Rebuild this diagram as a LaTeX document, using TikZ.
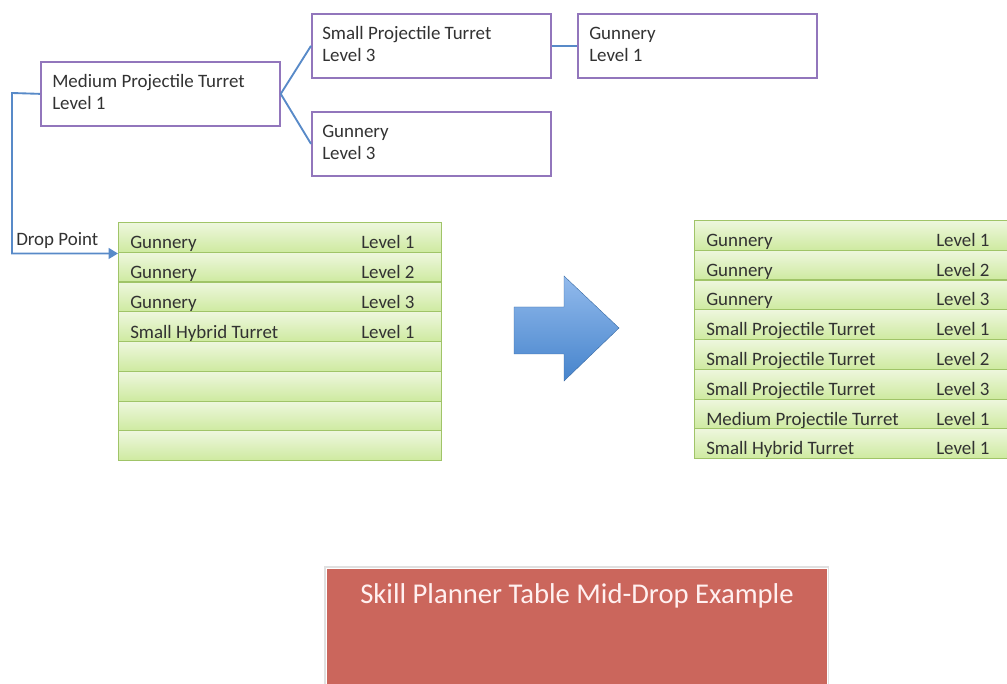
\documentclass[tikz,border=0pt]{standalone}
\usepackage{fontspec}
\setmainfont{Carlito}
\usetikzlibrary{arrows.meta}
\definecolor{purp}{RGB}{146,118,188}
\definecolor{conn}{RGB}{88,138,200}
\definecolor{grnb}{RGB}{160,196,104}
\definecolor{grnt}{RGB}{238,247,222}
\definecolor{grnbot}{RGB}{206,234,160}
\definecolor{txt}{RGB}{50,50,50}
\definecolor{redf}{RGB}{203,102,92}
\definecolor{arrt}{RGB}{146,186,236}
\definecolor{arrb}{RGB}{70,132,204}
\tikzset{
  skillbox/.style={draw=purp, line width=1.3pt, fill=white, minimum width=239*0.75pt, minimum height=64*0.75pt, anchor=north west, inner sep=0pt},
  boxtext/.style={anchor=base west, text=txt, font=\fontsize{14.2}{16}\selectfont, inner sep=0pt},
  conline/.style={draw=conn, line width=1.4pt},
  rowcell/.style={draw=grnb, line width=0.8pt, top color=grnt, bottom color=grnbot, anchor=north west, inner sep=0pt},
  celltext/.style={anchor=base west, text=txt, font=\fontsize{14.2}{16}\selectfont, inner sep=0pt},
}
\begin{document}
\begin{tikzpicture}[x=0.75pt,y=-0.75pt]
\useasboundingbox (0,0) rectangle (1007,684);
% skill boxes
\node[skillbox] (mpt) at (40,61) {};
\node[boxtext] (mpt1) at (52,88) {Medium Projectile Turret};
\node[boxtext] (mpt2) at (52,110) {Level 1};
\node[skillbox] (spt) at (311,13) {};
\node[boxtext] (spt1) at (322,40) {Small Projectile Turret};
\node[boxtext] (spt2) at (322,62) {Level 3};
\node[skillbox] (gun3) at (311,111) {};
\node[boxtext] (gun31) at (322,138) {Gunnery};
\node[boxtext] (gun32) at (322,160) {Level 3};
\node[skillbox] (gun1) at (577,13) {};
\node[boxtext] (gun11) at (589,40) {Gunnery};
\node[boxtext] (gun12) at (589,62) {Level 1};
% connectors
\draw[conline] (mpt.east) -- (spt.west);
\draw[conline] (mpt.east) -- (gun3.west);
\draw[conline] (spt.east) -- (gun1.west);
% table 1
\foreach \i/\a/\b in {1/Gunnery/Level 1,2/Gunnery/Level 2,3/Gunnery/Level 3,4/Small Hybrid Turret/Level 1,5//,6//,7//,8//}{
  \node[rowcell, minimum width=323*0.75pt, minimum height=29.75*0.75pt] (ta\i) at (118,{222+(\i-1)*29.75}) {};
  \node[celltext] at (130,{222+(\i-1)*29.75+27}) {\a};
  \node[celltext] at (361,{222+(\i-1)*29.75+27}) {\b};
}
% drop connector
\coordinate (dropx) at (12,93);
\draw[conline, -{Triangle[length=7pt,width=8pt]}] (mpt.west) -- (dropx) |- ([yshift=-0.5pt]ta1.south west);
\node[anchor=base west, text=txt, font=\fontsize{14.2}{16}\selectfont, inner sep=0pt] (dp) at (16,246) {Drop Point};
% block arrow
\shade[top color=arrt, bottom color=arrb, draw=arrb!80!black, line width=0.3pt]
  (514,307) -- (564,307) -- (564,276) -- (619,328) -- (564,381) -- (564,354) -- (514,354) -- cycle;
% table 2
\foreach \i/\a in {1/Gunnery,2/Gunnery,3/Gunnery,4/Small Projectile Turret,5/Small Projectile Turret,6/Small Projectile Turret,7/Medium Projectile Turret,8/Small Hybrid Turret}{
  \node[rowcell, minimum width=330*0.75pt, minimum height=29.75*0.75pt] (tb\i) at (694,{220+(\i-1)*29.75}) {};
  \node[celltext] at (706,{220+(\i-1)*29.75+26.5}) {\a};
}
\foreach \i/\b in {1/Level 1,2/Level 2,3/Level 3,4/Level 1,5/Level 2,6/Level 3,7/Level 1,8/Level 1}{
  \node[celltext] at (936,{220+(\i-1)*29.75+26.5}) {\b};
}
% title box
\fill[black!12] (324,566) rectangle (829,690);
\fill[white] (325.5,567.5) rectangle (827.5,690);
\node[fill=redf, anchor=north west, minimum width=500*0.75pt, minimum height=130*0.75pt, inner sep=0pt] (title) at (327,569) {};
\node[anchor=base, text=white!94!red, font=\fontsize{21.5}{24}\selectfont, inner sep=0pt] (titletext) at (577,603) {Skill Planner Table Mid-Drop Example};
\end{tikzpicture}
\end{document}
